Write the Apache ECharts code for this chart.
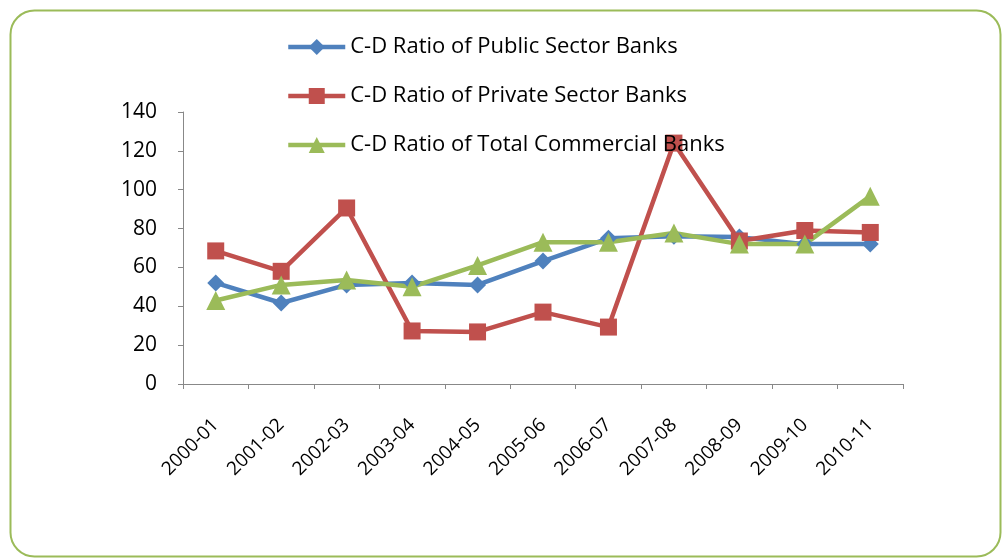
<!DOCTYPE html>
<html><head><meta charset="utf-8">
<script src="https://cdn.jsdelivr.net/npm/echarts@6/dist/echarts.min.js"></script>
<style>html,body{margin:0;padding:0;background:#fff}#c{width:1005px;height:559px}</style>
</head><body><div id="c"></div>
<script>
const categories = ['2000-01','2001-02','2002-03','2003-04','2004-05','2005-06','2006-07','2007-08','2008-09','2009-10','2010-11'];
const publicBanks = [52, 41.7, 51, 52, 51, 63.3, 75, 76, 75.6, 72, 72];
const privateBanks = [68.5, 58, 90.6, 27.3, 26.8, 37, 29.3, 124, 73.6, 79, 78];
const totalBanks = [43, 51, 53.5, 50, 61, 73, 73, 77.7, 72, 72, 96.7];
const seriesNames = ['C-D Ratio of Public Sector Banks','C-D Ratio of Private Sector Banks','C-D Ratio of Total Commercial Banks'];

const font = '"Open Sans", "Liberation Sans", Arial, sans-serif';
const chart = echarts.init(document.getElementById('c'));
function ser(name, data, color, symbol, size){
  return {name, type:'line', data, symbol, symbolSize:size, showAllSymbol:true,
    lineStyle:{color, width:4.5}, itemStyle:{color}, emphasis:{disabled:true}};
}
chart.setOption({
  animation:false,
  graphic:[{type:'rect', left:8, top:8, shape:{width:990, height:546, r:24},
    style:{fill:'none', stroke:'#9bbb59', lineWidth:2}, z:-1}],
  legend:{orient:'vertical', left:281, top:31, itemWidth:57, itemHeight:20, itemGap:27,
    lineStyle:{width:4.5},
    textStyle:{fontFamily:font, fontSize:22, color:'#000'}, data:seriesNames},
  grid:{left:183, right:102, top:112, bottom:175},
  xAxis:{type:'category', data:categories, boundaryGap:true,
    axisLine:{lineStyle:{color:'#888', width:1}},
    axisTick:{show:true, length:5, lineStyle:{color:'#888'}},
    axisLabel:{rotate:45, fontFamily:font, fontSize:19, color:'#000', margin:38}},
  yAxis:{type:'value', min:0, max:140, interval:20,
    axisLine:{show:true, lineStyle:{color:'#888', width:1}},
    axisTick:{show:true, length:5, lineStyle:{color:'#888'}},
    splitLine:{show:false},
    axisLabel:{fontFamily:font, fontSize:21, color:'#000', margin:26}},
  series:[
    ser(seriesNames[0], publicBanks, '#4f81bd', 'diamond', 17),
    ser(seriesNames[1], privateBanks, '#c0504d', 'rect', 17),
    ser(seriesNames[2], totalBanks, '#9bbb59', 'triangle', 19)
  ]
});
</script></body></html>
